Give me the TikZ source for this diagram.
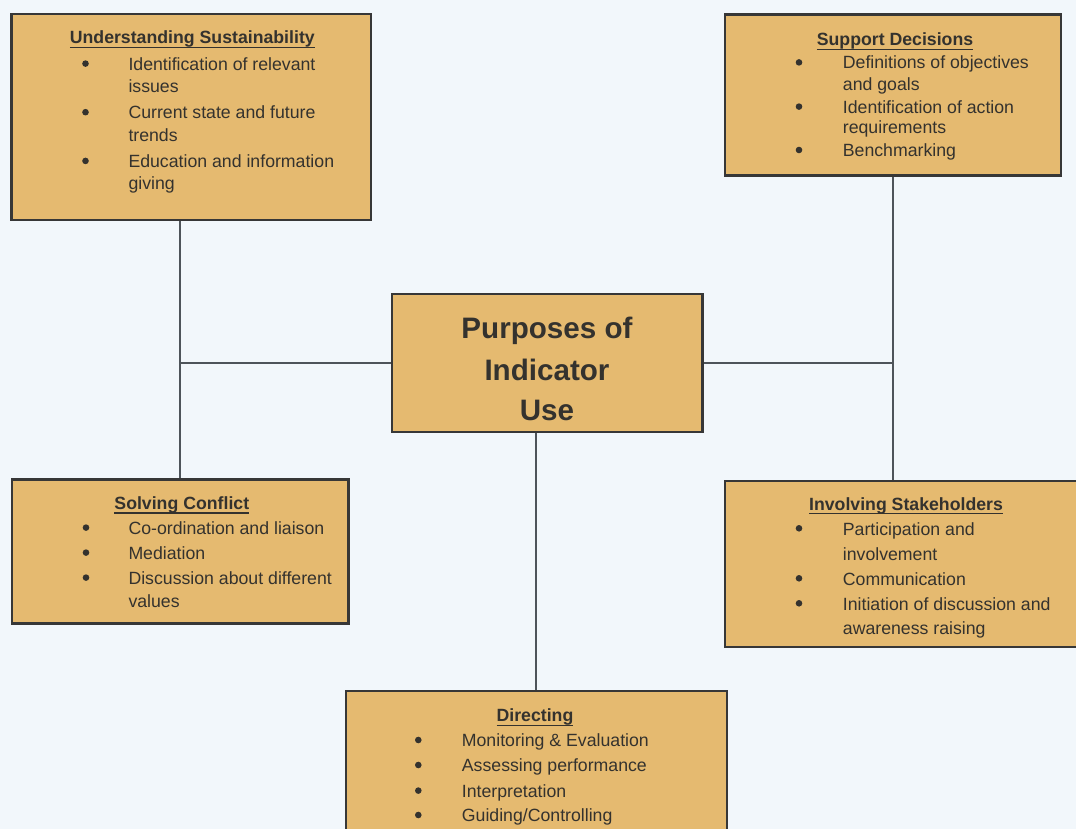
\documentclass[tikz,border=0pt]{standalone}
\usepackage{fontspec}
\setmainfont{Liberation Sans}
\definecolor{boxfill}{RGB}{229,186,112}
\definecolor{ink}{RGB}{52,50,46}
\definecolor{edge}{RGB}{55,55,55}
\definecolor{wire}{RGB}{78,84,90}
\definecolor{paper}{RGB}{242,247,251}
% underline set close to the baseline, crossing the descenders
\newcommand\ulinetext[1]{\setbox0\hbox{#1}\rlap{\vrule height -2.9pt depth 4.3pt width \wd0}\box0}
\tikzset{
  panel/.style={draw=edge, line width=2.4pt, fill=boxfill, rectangle, inner sep=0pt},
  wire/.style={draw=wire, line width=2pt},
  body/.style={anchor=base west, inner sep=0pt, text=ink, font=\fontsize{17.7}{20}\selectfont},
  head/.style={anchor=base, inner sep=0pt, text=ink, font=\fontsize{17.7}{20}\selectfont\bfseries},
  big/.style={anchor=base, inner sep=0pt, text=ink, font=\fontsize{29.6}{32}\selectfont\bfseries},
  dot/.style={circle, fill=ink, inner sep=0pt, minimum size=6.6pt}
}
\begin{document}
\begin{tikzpicture}[x=1pt, y=-1pt]
\fill[paper] (0,0) rectangle (1076,829);
\useasboundingbox (0,0) rectangle (1076,829);

% panels
\node[panel, minimum width=359.7pt, minimum height=206pt] (us) at (191.2,117) {};
\node[panel, minimum width=335.7pt, minimum height=161pt] (sd) at (892.9,95.2) {};
\node[panel, minimum width=310.6pt, minimum height=138pt] (pu) at (547,363.2) {};
\node[panel, minimum width=336.6pt, minimum height=144pt] (sc) at (180,551.3) {};
\node[panel, minimum width=360pt, minimum height=165.7pt] (is) at (905,563.9) {};
\node[panel, minimum width=381pt, minimum height=158pt] (dr) at (536.2,770) {};

% connectors
\draw[wire] (sc.north) -- (sc.north |- us.south);
\draw[wire] (sc.north |- pu.west) -- (pu.west);
\draw[wire] (sd.south) -- (sd.south |- is.north);
\draw[wire] (pu.east) -- (pu.east -| sd.south);
\draw[wire] (dr.north) -- (dr.north |- pu.south);

% centre
\node[big] (pu-1) at (547,338.3) {Purposes of};
\node[big] (pu-2) at (547,380.7) {Indicator};
\node[big] (pu-3) at (547,420) {Use};

% Understanding Sustainability
\node[head] (us-t) at (192.3,44) {\ulinetext{Understanding Sustainability}};
\node[dot] (us-b1) at (85.5,63.6) {};
\node[body] (us-1) at (128.3,70.7) {Identification of relevant};
\node[body] (us-2) at (128.3,92.7) {issues};
\node[dot] (us-b2) at (85.5,112.2) {};
\node[body] (us-3) at (128.3,119) {Current state and future};
\node[body] (us-4) at (128.3,141.7) {trends};
\node[dot] (us-b3) at (85.5,160.9) {};
\node[body] (us-5) at (128.3,167.7) {Education and information};
\node[body] (us-6) at (128.3,190) {giving};

% Support Decisions
\node[head] (sd-t) at (895,46) {\ulinetext{Support Decisions}};
\node[dot] (sd-b1) at (799,62.4) {};
\node[body] (sd-1) at (842.7,69) {Definitions of objectives};
\node[body] (sd-2) at (842.7,90.7) {and goals};
\node[dot] (sd-b2) at (799,106.6) {};
\node[body] (sd-3) at (842.7,113.3) {Identification of action};
\node[body] (sd-4) at (842.7,133.3) {requirements};
\node[dot] (sd-b3) at (799,150) {};
\node[body] (sd-5) at (842.7,156.7) {Benchmarking};

% Solving Conflict
\node[head] (sc-t) at (181.8,509.3) {\ulinetext{Solving Conflict}};
\node[dot] (sc-b1) at (86,527.6) {};
\node[body] (sc-1) at (128.3,534.3) {Co-ordination and liaison};
\node[dot] (sc-b2) at (86,552.6) {};
\node[body] (sc-2) at (128.3,559.3) {Mediation};
\node[dot] (sc-b3) at (86,577.6) {};
\node[body] (sc-3) at (128.3,584.3) {Discussion about different};
\node[body] (sc-4) at (128.3,607.7) {values};

% Involving Stakeholders
\node[head] (is-t) at (906,510) {\ulinetext{Involving Stakeholders}};
\node[dot] (is-b1) at (799,528.3) {};
\node[body] (is-1) at (842.7,535) {Participation and};
\node[body] (is-2) at (842.7,560) {involvement};
\node[dot] (is-b2) at (799,578.3) {};
\node[body] (is-3) at (842.7,585) {Communication};
\node[dot] (is-b3) at (799,603.3) {};
\node[body] (is-4) at (842.7,610) {Initiation of discussion and};
\node[body] (is-5) at (842.7,634.3) {awareness raising};

% Directing
\node[head] (dr-t) at (535,721.7) {\ulinetext{Directing}};
\node[dot] (dr-b1) at (418.3,740) {};
\node[body] (dr-1) at (461.7,746.7) {Monitoring \& Evaluation};
\node[dot] (dr-b2) at (418.3,765) {};
\node[body] (dr-2) at (461.7,771.7) {Assessing performance};
\node[dot] (dr-b3) at (418.3,790.6) {};
\node[body] (dr-3) at (461.7,797.3) {Interpretation};
\node[dot] (dr-b4) at (418.3,815) {};
\node[body] (dr-4) at (461.7,821.7) {Guiding/Controlling};
\end{tikzpicture}
\end{document}
